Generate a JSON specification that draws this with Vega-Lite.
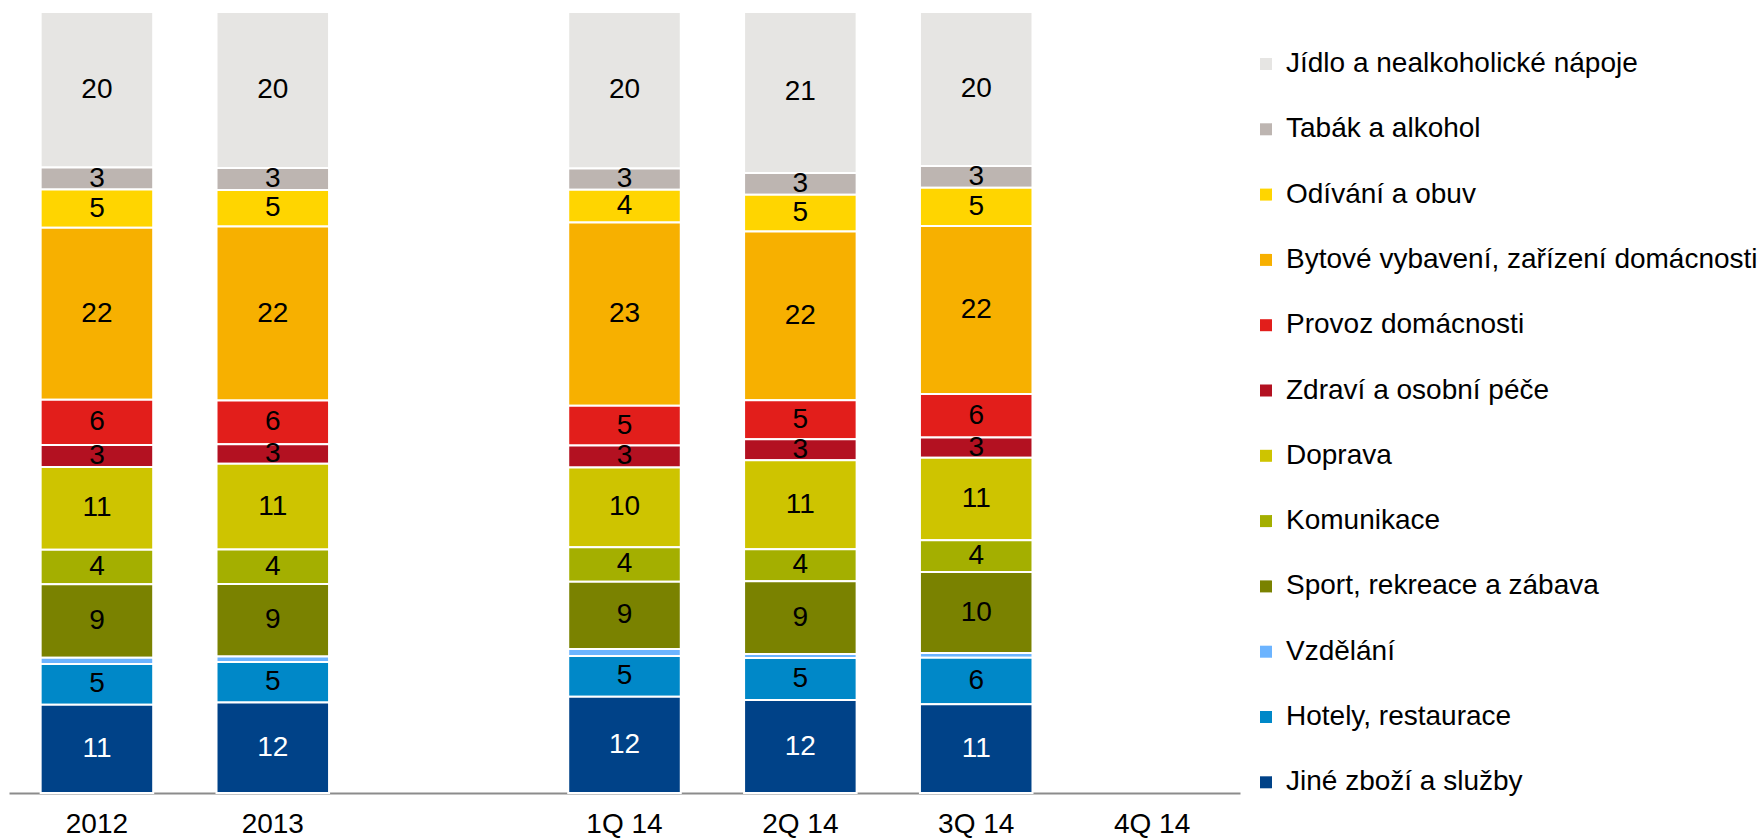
{
  "$schema": "https://vega.github.io/schema/vega-lite/v6.json",
  "width": 1231,
  "height": 781,
  "autosize": "none",
  "padding": {"left": 9, "top": 12, "right": 521, "bottom": 46},
  "background": "white",
  "config": {"view": {"stroke": null}, "font": "Liberation Sans"},
  "data": {
    "values": [
      {"cat": "Jídlo a nealkoholické nápoje", "o": 1, "2012": 19.9, "2013": 20.0, "1Q 14": 20.0, "2Q 14": 20.6, "3Q 14": 19.8},
      {"cat": "Tabák a alkohol", "o": 2, "2012": 2.8, "2013": 2.8, "1Q 14": 2.7, "2Q 14": 2.8, "3Q 14": 2.8},
      {"cat": "Odívání a obuv", "o": 3, "2012": 4.9, "2013": 4.7, "1Q 14": 4.2, "2Q 14": 4.7, "3Q 14": 4.9},
      {"cat": "Bytové vybavení, zařízení domácnosti", "o": 4, "2012": 22.0, "2013": 22.3, "1Q 14": 23.4, "2Q 14": 21.6, "3Q 14": 21.6},
      {"cat": "Provoz domácnosti", "o": 5, "2012": 5.8, "2013": 5.6, "1Q 14": 5.1, "2Q 14": 5.0, "3Q 14": 5.6},
      {"cat": "Zdraví a osobní péče", "o": 6, "2012": 2.8, "2013": 2.5, "1Q 14": 2.8, "2Q 14": 2.7, "3Q 14": 2.6},
      {"cat": "Doprava", "o": 7, "2012": 10.6, "2013": 11.0, "1Q 14": 10.2, "2Q 14": 11.4, "3Q 14": 10.6},
      {"cat": "Komunikace", "o": 8, "2012": 4.4, "2013": 4.4, "1Q 14": 4.4, "2Q 14": 4.1, "3Q 14": 4.1},
      {"cat": "Sport, rekreace a zábava", "o": 9, "2012": 9.4, "2013": 9.3, "1Q 14": 8.6, "2Q 14": 9.3, "3Q 14": 10.4},
      {"cat": "Vzdělání", "o": 10, "2012": 0.8, "2013": 0.7, "1Q 14": 0.9, "2Q 14": 0.5, "3Q 14": 0.6},
      {"cat": "Hotely, restaurace", "o": 11, "2012": 5.2, "2013": 5.2, "1Q 14": 5.2, "2Q 14": 5.4, "3Q 14": 6.0},
      {"cat": "Jiné zboží a služby", "o": 12, "2012": 11.3, "2013": 11.6, "1Q 14": 12.3, "2Q 14": 11.9, "3Q 14": 11.4}
    ]
  },
  "transform": [
    {"fold": ["2012", "2013", "1Q 14", "2Q 14", "3Q 14"], "as": ["period", "v"]}
  ],
  "encoding": {
    "x": {
      "field": "period",
      "type": "nominal",
      "sort": null,
      "scale": {"domain": ["2012", "2013", " ", "1Q 14", "2Q 14", "3Q 14", "4Q 14"], "paddingInner": 0.36, "paddingOuter": 0.18},
      "axis": {"title": null, "labelAngle": 0, "labelFontSize": 28, "labelColor": "black", "ticks": false, "domainColor": "#8c8c8c", "domainWidth": 2, "labelPadding": 17, "grid": false}
    },
    "y": {"field": "v", "type": "quantitative", "stack": "normalize", "scale": {"domain": [0, 1]}, "axis": null},
    "order": {"field": "o", "sort": "descending"}
  },
  "layer": [
    {
      "mark": {"type": "bar", "stroke": "white", "strokeWidth": 2},
      "encoding": {
        "color": {
          "field": "cat",
          "type": "nominal",
          "scale": {
            "domain": ["Jídlo a nealkoholické nápoje", "Tabák a alkohol", "Odívání a obuv", "Bytové vybavení, zařízení domácnosti", "Provoz domácnosti", "Zdraví a osobní péče", "Doprava", "Komunikace", "Sport, rekreace a zábava", "Vzdělání", "Hotely, restaurace", "Jiné zboží a služby"],
            "range": ["#E6E5E3", "#BDB5B1", "#FFD500", "#F7B000", "#E21E1B", "#B31121", "#CEC400", "#A4AF00", "#7A8200", "#6CB4FF", "#0088C8", "#004288"]
          },
          "legend": {
            "orient": "none", "legendX": 1243, "legendY": 38, "title": null,
            "symbolType": "square", "symbolSize": 144, "symbolStrokeWidth": 0,
            "labelFontSize": 28, "labelColor": "black", "labelOffset": 6, "labelLimit": 600,
            "rowPadding": 37.3, "padding": 0
          }
        }
      }
    },
    {
      "mark": {"type": "text", "fontSize": 28, "baseline": "middle", "align": "center"},
      "encoding": {
        "y": {"field": "v", "type": "quantitative", "stack": "normalize", "bandPosition": 0.5},
        "detail": {"field": "cat"},
        "text": {"field": "v", "type": "quantitative", "format": ".0f"},
        "color": {"condition": {"test": "datum.cat === 'Jiné zboží a služby'", "value": "white"}, "value": "black"},
        "opacity": {"condition": {"test": "datum.v < 1.5", "value": 0}, "value": 1}
      }
    }
  ]
}
